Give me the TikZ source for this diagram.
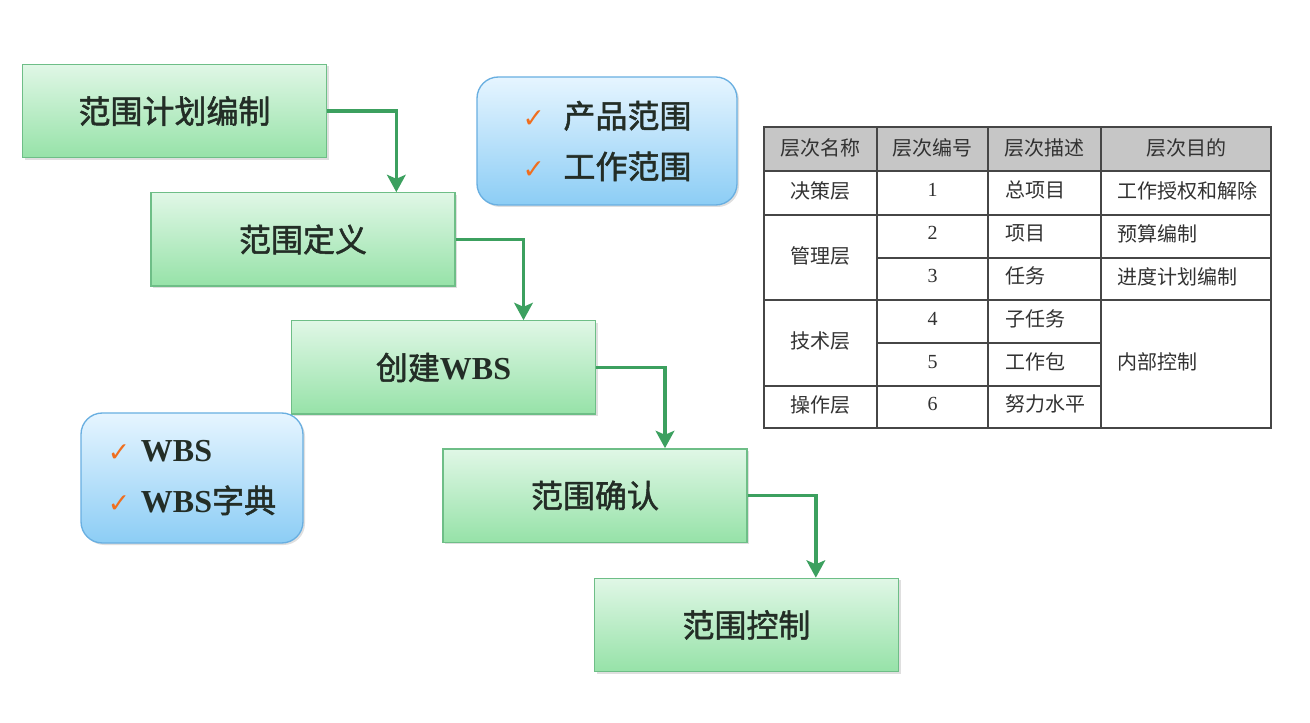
\documentclass[tikz,border=0pt]{standalone}
\usepackage{fontspec}
\setmainfont{Liberation Serif}
\newfontfamily\cjk{Noto Sans CJK SC}
\newfontfamily\cjkfuerte{Noto Sans CJK SC}[FakeBold=1.6]
\newfontfamily\symfont{DejaVu Sans}
\usetikzlibrary{arrows.meta,shadows}
\definecolor{verdeborde}{RGB}{110,190,135}
\definecolor{verdearriba}{RGB}{224,247,230}
\definecolor{verdeabajo}{RGB}{150,226,168}
\definecolor{verdeflecha}{RGB}{60,160,95}
\definecolor{azulborde}{RGB}{105,175,225}
\definecolor{azularriba}{RGB}{230,245,255}
\definecolor{azulabajo}{RGB}{140,205,245}
\definecolor{naranjacheck}{RGB}{240,110,30}
\definecolor{textooscuro}{RGB}{35,45,38}
\definecolor{grisborde}{RGB}{70,70,70}
\definecolor{grisencabezado}{RGB}{198,198,198}
\definecolor{gristexto}{RGB}{50,50,50}
\newcommand{\chk}{{\symfont\bfseries\fontsize{20}{20}\selectfont\color{naranjacheck}✓}}

\begin{document}
\begin{tikzpicture}[x=0.75pt, y=-0.75pt,
    paso/.style={rectangle, draw=verdeborde, line width=1pt,
                 top color=verdearriba, bottom color=verdeabajo,
                 minimum width=228pt, minimum height=70pt, inner sep=0pt,
                 font=\cjkfuerte\fontsize{24}{28}\selectfont, text=textooscuro,
                 drop shadow={shadow xshift=1.5pt, shadow yshift=-1.5pt, opacity=0.25}},
    nota/.style={rectangle, rounded corners=16pt, draw=azulborde, line width=1pt,
                 top color=azularriba, bottom color=azulabajo, inner sep=0pt,
                 align=left, font=\cjkfuerte\fontsize{24}{38}\selectfont, text=textooscuro,
                 drop shadow={shadow xshift=1.5pt, shadow yshift=-1.5pt, opacity=0.25}},
    flecha/.style={-{Stealth[length=13pt,width=14pt,inset=3pt]}, line width=2.6pt, color=verdeflecha},
    celda/.style={font=\cjk\fontsize{15}{18}\selectfont, text=gristexto, inner sep=0pt},
    numero/.style={font=\fontsize{15}{18}\selectfont, text=gristexto, inner sep=0pt},
    linea/.style={draw=grisborde, line width=1.1pt}
  ]
    \fill[white] (0,0) rectangle (1310,723);
    \useasboundingbox (0,0) rectangle (1310,723);

    % pasos del proceso
    \node[paso] (plan)    at (174.5,111)   {范围计划编制};
    \node[paso] (define)  at (303,239.5)   {范围定义};
    \node[paso] (wbs)     at (443.5,367.5) {创建{\rmfamily\bfseries WBS}};
    \node[paso] (verify)  at (595,495.5)   {范围确认};
    \node[paso] (control) at (746.5,625)   {范围控制};

    \draw[flecha] (plan.east)   -| ([xshift=70pt]define.north);
    \draw[flecha] (define.east) -| ([xshift=60pt]wbs.north);
    \draw[flecha] (wbs.east)    -| ([xshift=52.5pt]verify.north);
    \draw[flecha] (verify.east) -| ([xshift=52pt]control.north);

    % notas
    \node[nota, minimum width=195pt, minimum height=96pt] (alcance) at (607,141)
      {\chk\hspace{14pt}产品范围\\\chk\hspace{14pt}工作范围};
    \node[nota, minimum width=166.5pt, minimum height=97.5pt] (salidas) at (192,478)
      {\chk\hspace{8pt}{\rmfamily\bfseries WBS}\\\chk\hspace{8pt}{\rmfamily\bfseries WBS}字典};

    % tabla de niveles
    \fill[grisencabezado] (764,127) rectangle (1271,171);
    \draw[linea] (764,171) -- (1271,171);
    \draw[linea] (764,215) -- (1271,215);
    \draw[linea] (877,258) -- (1271,258);
    \draw[linea] (764,300) -- (1271,300);
    \draw[linea] (877,343) -- (1101,343);
    \draw[linea] (764,386) -- (1101,386);
    \foreach \x in {877,988,1101}
      \draw[linea] (\x,127) -- (\x,428);
    \draw[linea, line width=1.5pt] (764,127) rectangle (1271,428);

    \foreach \x/\t [count=\i] in {820.5/层次名称, 932.5/层次编号, 1044.5/层次描述, 1186/层次目的}
      \node[celda] (h\i) at (\x,148) {\t};

    \node[celda] (nivel1) at (820.5,191) {决策层};
    \node[celda] (nivel2) at (820.5,256) {管理层};
    \node[celda] (nivel3) at (820.5,341) {技术层};
    \node[celda] (nivel4) at (820.5,405) {操作层};

    \foreach \n/\y in {1/190, 2/233, 3/276, 4/319, 5/362, 6/404}
      \node[numero] (num\n) at (932.5,\y) {\n};

    \foreach \t/\y [count=\i] in {总项目/190, 项目/233, 任务/276, 子任务/319, 工作包/362, 努力水平/404}
      \node[celda, anchor=west] (desc\i) at (1005,\y) {\t};

    \foreach \t/\y [count=\i] in {工作授权和解除/191, 预算编制/234, 进度计划编制/277, 内部控制/362}
      \node[celda, anchor=west] (meta\i) at (1117,\y) {\t};
  \end{tikzpicture}
\end{document}
